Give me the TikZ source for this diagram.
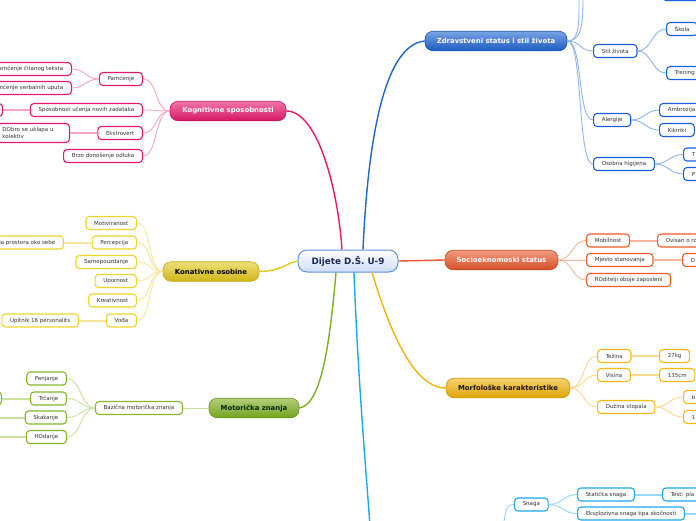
\documentclass[tikz,border=0pt]{standalone}
\usepackage{fontspec}
\setmainfont{DejaVu Sans}
\usetikzlibrary{positioning}

\definecolor{cBlu}{HTML}{1E64D2}
\definecolor{sBlu}{HTML}{1A5FDB}
\definecolor{lBlu}{HTML}{8FB5EE}
\definecolor{cPnk}{HTML}{E8186E}
\definecolor{lPnk}{HTML}{F7A6C8}
\definecolor{cYel}{HTML}{E2C81A}
\definecolor{sYel}{HTML}{F0D428}
\definecolor{lYel}{HTML}{F5E79A}
\definecolor{cGrn}{HTML}{7FB021}
\definecolor{sGrn}{HTML}{84B82A}
\definecolor{lGrn}{HTML}{C9E2A0}
\definecolor{cOrg}{HTML}{E8562A}
\definecolor{sOrg}{HTML}{F05A28}
\definecolor{lOrg}{HTML}{F8B49A}
\definecolor{cGld}{HTML}{F2B40A}
\definecolor{sGld}{HTML}{F8B814}
\definecolor{lGld}{HTML}{F8DA8E}
\definecolor{cCyn}{HTML}{1AA8EE}
\definecolor{lCyn}{HTML}{9AD6F6}
\definecolor{rootTxt}{HTML}{1C2A5A}

\begin{document}
\begin{tikzpicture}[x=1pt,y=-1pt,
	leaf/.style={draw=#1, line width=1.1pt, fill=white, rounded corners=3.5pt, minimum height=13pt, inner xsep=8.2pt, inner ysep=0pt, text=black!80, font=\fontsize{5.5}{6.6}\selectfont},
	topic/.style={draw=#1!85!black, line width=0.6pt, rounded corners=8pt, top color=#1!60!white, bottom color=#1!92!black, minimum height=19.5pt, inner sep=0pt, font=\bfseries\fontsize{6.9}{8}\selectfont},
	link/.style={draw=#1, line width=0.9pt},
	bar/.style={draw=#1, line width=2pt},
	trunk/.style={draw=#1, line width=1.4pt}]

	\useasboundingbox[fill=white] (0,0) rectangle (696,520);
	\clip (0,0) rectangle (696,520);

	% centre
	\node[draw=cBlu!70!white, line width=1pt, rounded corners=9pt, top color=white, bottom color=cBlu!22!white, minimum width=100pt, minimum height=22pt, text=rootTxt, font=\bfseries\fontsize{8.8}{10}\selectfont] (root) at (348,261) {Dijete D.Š. U-9};

	\node[topic=cBlu, minimum width=142pt, text=white] (zdr) at (496,41) {Zdravstveni status i stil života};
	\node[topic=cPnk, minimum width=116pt, text=white] (kog) at (228,111) {Kognitivne sposobnosti};
	\node[topic=cYel, minimum width=96pt, text=black] (kon) at (211,271.5) {Konativne osobine};
	\node[topic=cOrg, minimum width=113pt, text=white] (soc) at (501.5,260) {Socioeknomoski status};
	\node[topic=cGld, minimum width=124pt, text=black!85!brown] (mor) at (508,388) {Morfološke karakteristike};
	\node[topic=cGrn, minimum width=90pt, text=black!85!green] (mot) at (254,408) {Motorička znanja};

	\draw[trunk=cBlu] ([xshift=15pt]root.north) .. controls (367,160) and (380,45) .. (zdr.west);
	\draw[trunk=cPnk] (kog.east) .. controls (318,111) and (338,190) .. ([xshift=-6pt]root.north);
	\draw[trunk=cYel] (kon.east) .. controls (282,271) and (284,264) .. (root.west);
	\draw[trunk=cOrg] (root.east) -- (soc.west);
	\draw[trunk=cGld] ([xshift=24pt]root.south) .. controls (388,325) and (412,388) .. (mor.west);
	\draw[trunk=cGrn] ([xshift=-12pt]root.south) .. controls (330,340) and (322,405) .. (mot.east);
	\coordinate (cynEnd) at (370,526);
	\draw[trunk=cCyn] ([xshift=6pt]root.south) .. controls (358,380) and (366,470) .. (cynEnd);

	% zdravstveni status
	\node[leaf=sBlu, anchor=west] (stil) at (593,51) {Stil života};
	\node[leaf=sBlu, anchor=west] (skola) at (666,29) {Škola};
	\node[leaf=sBlu, anchor=west] (trening) at (666,73) {Trening};
	\node[leaf=sBlu, anchor=west] (alerg) at (593,120) {Alergije};
	\node[leaf=sBlu, anchor=west] (ambr) at (659,110) {Ambrozija};
	\node[leaf=sBlu, anchor=west] (kiki) at (659,130) {Kikiriki};
	\node[leaf=sBlu, anchor=west] (osob) at (593,164) {Osobna higijena};
	\node[leaf=sBlu, anchor=west] (higT) at (683,154.5) {T};
	\node[leaf=sBlu, anchor=west] (higP) at (683,174) {P};
	\node[leaf=sBlu, anchor=west, minimum width=40pt] (topR) at (662,-6) {};
	\coordinate (zUp1) at (579,-2);
	\coordinate (zUp2) at (583,-2);
	\draw[link=lBlu] (zdr.east) .. controls +(12,0) and (579,25) .. (zUp1);
	\draw[link=lBlu] (zdr.east) .. controls +(14,0) and (583,25) .. (zUp2);
	\draw[link=lBlu] (zdr.east) .. controls +(14,0) and +(-14,0) .. (stil.west);
	\draw[link=lBlu] (zdr.east) .. controls +(16,0) and +(-16,0) .. (alerg.west);
	\draw[link=lBlu] (zdr.east) .. controls +(16,0) and +(-16,0) .. (osob.west);
	\draw[link=lBlu] (stil.east) .. controls +(14,0) and +(-14,0) .. (skola.west);
	\draw[link=lBlu] (stil.east) .. controls +(14,0) and +(-14,0) .. (trening.west);
	\draw[link=lBlu] (alerg.east) .. controls +(13,0) and +(-13,0) .. (ambr.west);
	\draw[link=lBlu] (alerg.east) .. controls +(13,0) and +(-13,0) .. (kiki.west);
	\draw[link=lBlu] (osob.east) .. controls +(13,0) and +(-13,0) .. (higT.west);
	\draw[link=lBlu] (osob.east) .. controls +(13,0) and +(-13,0) .. (higP.west);

	% kognitivne sposobnosti
	\node[leaf=cPnk, anchor=east] (pam) at (143,79) {Pamćenje};
	\node[leaf=cPnk, anchor=east] (pamC) at (72,69) {Pamćenje čitanog teksta};
	\node[leaf=cPnk, anchor=east] (pamV) at (72,88) {Pamćenje verbalnih uputa};
	\node[leaf=cPnk, anchor=east] (spos) at (143,110) {Sposobnost učenja novih zadataka};
	\node[leaf=cPnk, anchor=east, minimum width=40pt] (sposX) at (3,110) {};
	\node[leaf=cPnk, anchor=east] (ekstr) at (143,133) {Ekstrovert};
	\node[leaf=cPnk, anchor=east, minimum height=19pt, inner xsep=5pt, text width=62pt, align=left, font=\fontsize{5.5}{7.4}\selectfont] (dobro) at (70,133) {DObro se uklapa u\\kolektiv};
	\node[leaf=cPnk, anchor=east] (brzo) at (143,156) {Brzo donošenje odluka};
	\foreach \n in {pam,spos,ekstr,brzo}
		\draw[link=lPnk] (kog.west) .. controls +(-15,0) and +(15,0) .. (\n.east);
	\draw[link=lPnk] (pam.west) .. controls +(-13,0) and +(13,0) .. (pamC.east);
	\draw[link=lPnk] (pam.west) .. controls +(-13,0) and +(13,0) .. (pamV.east);
	\draw[bar=lPnk] (spos.west) -- (sposX.east);
	\draw[bar=lPnk] (ekstr.west) -- (dobro.east);

	% konativne osobine
	\node[leaf=sYel, anchor=east] (motiv) at (137,223) {Motiviranost};
	\node[leaf=sYel, anchor=east] (perc) at (137,242.5) {Percepcija};
	\node[leaf=sYel, anchor=east] (orij) at (64,242.5) {Orijentacija prostora oko sebe};
	\node[leaf=sYel, anchor=east] (samo) at (137,262) {Samopouzdanje};
	\node[leaf=sYel, anchor=east] (upor) at (137,281) {Upornost};
	\node[leaf=sYel, anchor=east] (krea) at (137,300.5) {Kreativnost};
	\node[leaf=sYel, anchor=east] (voda) at (137,320.5) {Vođa};
	\node[leaf=sYel, anchor=east] (upit) at (79,320.5) {Upitnik 16 personalits};
	\foreach \n in {motiv,perc,samo,upor,krea,voda}
		\draw[link=lYel] (kon.west) .. controls +(-15,0) and +(15,0) .. (\n.east);
	\draw[bar=lYel] (perc.west) -- (orij.east);
	\draw[bar=lYel] (voda.west) -- (upit.east);

	% motoricka znanja
	\node[leaf=sGrn, anchor=east] (baz) at (183,408) {Bazična motorička znanja};
	\node[leaf=sGrn, anchor=east] (penj) at (67,378.5) {Penjanje};
	\node[leaf=sGrn, anchor=east] (trc) at (67,398.5) {Trčanje};
	\node[leaf=sGrn, anchor=east, minimum width=40pt] (trcX) at (2,398.5) {};
	\node[leaf=sGrn, anchor=east] (skak) at (67,417.5) {Skakanje};
	\node[leaf=sGrn, anchor=east] (hod) at (67,437) {HOdanje};
	\coordinate (skakX) at (-5,417.5);
	\coordinate (hodX) at (-5,437);
	\draw[link=lGrn] (mot.west) -- (baz.east);
	\foreach \n in {penj,trc,skak,hod}
		\draw[link=lGrn] (baz.west) .. controls +(-14,0) and +(14,0) .. (\n.east);
	\draw[bar=lGrn] (trc.west) -- (trcX.east);
	\draw[bar=lGrn] (skak.west) -- (skakX);
	\draw[bar=lGrn] (hod.west) -- (hodX);

	% socioekonomski status
	\node[leaf=sOrg, anchor=west] (mob) at (586,240.5) {Mobilnost};
	\node[leaf=sOrg, anchor=west] (ovisan) at (657,240.5) {Ovisan o roditeljima};
	\node[leaf=sOrg, anchor=west] (mjesto) at (586,260) {Mjesto stanovanja};
	\node[leaf=sOrg, anchor=west] (mjD) at (682,260) {D};
	\node[leaf=sOrg, anchor=west] (rod) at (586,280) {ROditelji oboje zaposleni};
	\foreach \n in {mob,mjesto,rod}
		\draw[link=lOrg] (soc.east) .. controls +(14,0) and +(-14,0) .. (\n.west);
	\draw[bar=lOrg] (mob.east) -- (ovisan.west);
	\draw[bar=lOrg] (mjesto.east) -- (mjD.west);

	% morfoloske karakteristike
	\node[leaf=sGld, anchor=west] (tez) at (597,356) {Težina};
	\node[leaf=sGld, anchor=west] (kg) at (659,356) {27kg};
	\node[leaf=sGld, anchor=west] (vis) at (597,375) {Visina};
	\node[leaf=sGld, anchor=west] (cm) at (659,375) {135cm};
	\node[leaf=sGld, anchor=west] (duz) at (597,407) {Dužina stopala};
	\node[leaf=sGld, anchor=west] (duzB) at (683,397) {b};
	\node[leaf=sGld, anchor=west] (duz1) at (683,417) {1};
	\foreach \n in {tez,vis,duz}
		\draw[link=lGld] (mor.east) .. controls +(14,0) and +(-14,0) .. (\n.west);
	\draw[bar=lGld] (tez.east) -- (kg.west);
	\draw[bar=lGld] (vis.east) -- (cm.west);
	\draw[link=lGld] (duz.east) .. controls +(13,0) and +(-13,0) .. (duzB.west);
	\draw[link=lGld] (duz.east) .. controls +(13,0) and +(-13,0) .. (duz1.west);

	% snaga
	\node[leaf=cCyn, anchor=west] (snaga) at (514,504.5) {Snaga};
	\node[leaf=cCyn, anchor=west] (stat) at (577,494.5) {Statička snaga};
	\node[leaf=cCyn, anchor=west] (test) at (662,494.5) {Test: pla};
	\node[leaf=cCyn, anchor=west] (eksp) at (577,513.5) {Eksplozivna snaga tipa skočnosti};
	\coordinate (snagaUp) at (503,526);
	\coordinate (ekspX) at (700,513.5);
	\draw[link=lCyn] (snaga.west) .. controls +(-9,0) and (506,512) .. (snagaUp);
	\draw[link=lCyn] (snaga.east) .. controls +(13,0) and +(-13,0) .. (stat.west);
	\draw[link=lCyn] (snaga.east) .. controls +(13,0) and +(-13,0) .. (eksp.west);
	\draw[bar=lCyn] (stat.east) -- (test.west);
	\draw[bar=lCyn] (eksp.east) -- (ekspX);

\end{tikzpicture}
\end{document}
